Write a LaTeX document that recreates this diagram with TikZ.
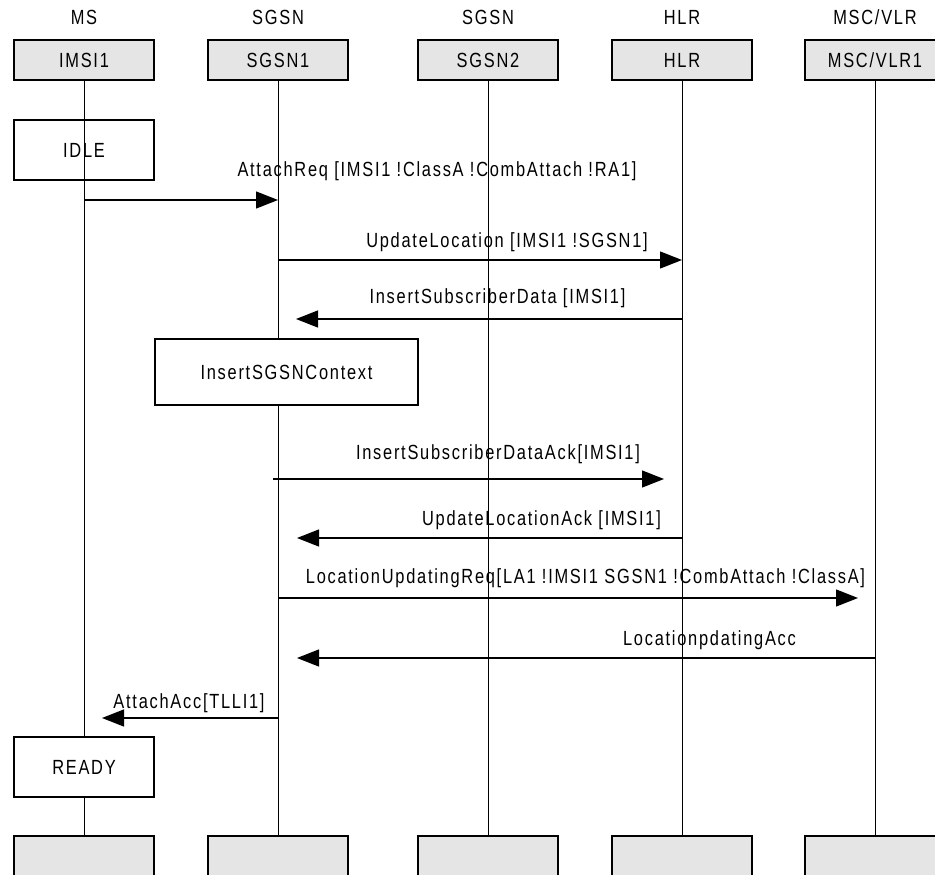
\documentclass[tikz,border=0pt]{standalone}
\usepackage{fontspec}
\setmainfont{Liberation Sans}[FakeStretch=0.8,LetterSpace=8.5]
\usetikzlibrary{arrows.meta}
\definecolor{headfill}{RGB}{229,229,229}
\begin{document}
\begin{tikzpicture}[x=1pt,y=-1pt,
  txt/.style={font=\fontsize{20.5}{23}\selectfont},
  lbl/.style={txt, inner sep=0pt, anchor=base},
  headbox/.style={txt, draw, line width=1.2pt, fill=headfill, minimum width=140pt, minimum height=40pt, inner sep=0pt},
  statebox/.style={txt, draw, line width=1.2pt, fill=white, minimum width=140pt, minimum height=60pt, inner sep=0pt},
  life/.style={line width=0.9pt},
  msg/.style={line width=1.3pt, -{Triangle[length=22pt,width=17pt]}}]
\path[use as bounding box] (0,0) rectangle (935,875);
\clip (0,0) rectangle (935,875);
% instance kinds
\node[lbl] (k1) at (84,25) {MS};
\node[lbl] (k2) at (278,25) {SGSN};
\node[lbl] (k3) at (488,25) {SGSN};
\node[lbl] (k4) at (682,25) {HLR};
\node[lbl] (k5) at (875,25) {MSC/VLR};
% header boxes
\node[headbox] (h1) at (84,60) {IMSI1};
\node[headbox] (h2) at (278,60) {SGSN1};
\node[headbox] (h3) at (488,60) {SGSN2};
\node[headbox] (h4) at (682,60) {HLR};
\node[headbox] (h5) at (875,60) {MSC/VLR1};
% footer boxes
\node[headbox] (f1) at (84,856) {};
\node[headbox] (f2) at (278,856) {};
\node[headbox] (f3) at (488,856) {};
\node[headbox] (f4) at (682,856) {};
\node[headbox] (f5) at (875,856) {};
% IDLE state (lifeline drawn over it)
\node[statebox] (idle) at (84,150) {IDLE};
% lifelines
\draw[life] (h1.south) -- (f1.north);
\draw[life] (h2.south) -- (f2.north);
\draw[life] (h3.south) -- (f3.north);
\draw[life] (h4.south) -- (f4.north);
\draw[life] (h5.south) -- (f5.north);
% boxes covering lifelines
\node[statebox, minimum width=263pt, minimum height=66pt] (ctx) at (286.5,372) {InsertSGSNContext};
\node[statebox] (ready) at (84,767) {READY};
% message end points
\coordinate (m1a) at (84,200);  \coordinate (m1b) at (278,200);
\coordinate (m2a) at (278,260); \coordinate (m2b) at (682,260);
\coordinate (m3a) at (682,319); \coordinate (m3b) at (296,319);
\coordinate (m4a) at (273,479); \coordinate (m4b) at (664,479);
\coordinate (m5a) at (682,538); \coordinate (m5b) at (297,538);
\coordinate (m6a) at (278,598); \coordinate (m6b) at (858,598);
\coordinate (m7a) at (875,658); \coordinate (m7b) at (297,658);
\coordinate (m8a) at (278,718); \coordinate (m8b) at (102,718);
\draw[msg] (m1a) -- (m1b);
\draw[msg] (m2a) -- (m2b);
\draw[msg] (m3a) -- (m3b);
\draw[msg] (m4a) -- (m4b);
\draw[msg] (m5a) -- (m5b);
\draw[msg] (m6a) -- (m6b);
\draw[msg] (m7a) -- (m7b);
\draw[msg] (m8a) -- (m8b);
% message labels
\node[lbl] (t1) at (437,176) {AttachReq [IMSI1 !ClassA !CombAttach !RA1]};
\node[lbl] (t2) at (507,247) {UpdateLocation [IMSI1 !SGSN1]};
\node[lbl] (t3) at (497.5,303) {InsertSubscriberData [IMSI1]};
\node[lbl] (t4) at (498,459) {InsertSubscriberDataAck[IMSI1]};
\node[lbl] (t5) at (541.5,525) {UpdateLocationAck [IMSI1]};
\node[lbl] (t6) at (585.5,583) {LocationUpdatingReq[LA1 !IMSI1 SGSN1 !CombAttach !ClassA]};
\node[lbl] (t7) at (709.5,645) {LocationpdatingAcc};
\node[lbl] (t8) at (189,708) {AttachAcc[TLLI1]};
\end{tikzpicture}
\end{document}
